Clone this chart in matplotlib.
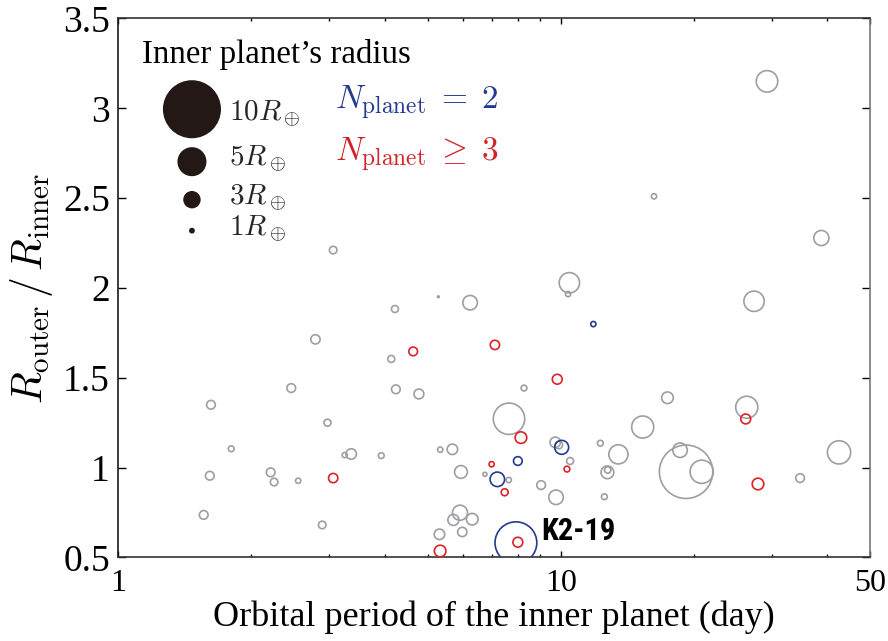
import matplotlib
matplotlib.use("Agg")
import matplotlib.pyplot as plt
from matplotlib.ticker import FixedLocator, NullFormatter, LogLocator

# Pairs of adjacent planets: inner planet period (day), outer/inner radius ratio,
# inner planet radius (Earth radii)
gray_period = [29.26, 16.25, 38.82, 3.06, 10.46, 10.39, 5.29, 6.24, 27.35, 4.22,
               2.79, 4.14, 2.46, 4.24, 4.78, 1.62, 2.97, 8.26, 17.43, 7.64,
               15.32, 26.33, 1.80, 3.25, 3.36, 3.93, 5.34, 5.69, 5.95, 1.61,
               2.21, 2.25, 2.55, 1.56, 2.89, 5.92, 5.72, 6.31, 5.99, 5.32,
               6.74, 7.63, 9.03, 9.76, 9.72, 9.90, 10.50, 12.29, 12.55, 12.75,
               12.77, 13.50, 19.20, 18.61, 20.83, 34.75, 42.56]
gray_ratio = [3.15, 2.51, 2.278, 2.211, 2.029, 1.966, 1.951, 1.918, 1.926, 1.883,
              1.714, 1.605, 1.443, 1.436, 1.41, 1.350, 1.250, 1.443, 1.389, 1.272,
              1.226, 1.336, 1.105, 1.070, 1.076, 1.067, 1.100, 1.102, 0.976, 0.955,
              0.974, 0.920, 0.927, 0.737, 0.681, 0.749, 0.709, 0.713, 0.642, 0.629,
              0.963, 0.931, 0.903, 0.835, 1.141, 1.126, 1.037, 1.136, 0.838, 0.974,
              0.987, 1.074, 0.977, 1.097, 0.977, 0.942, 1.085]
gray_rin = [3.7, 0.9, 2.6, 1.3, 3.5, 0.9, 0.3, 2.5, 3.5, 1.2,
            1.6, 1.2, 1.5, 1.5, 1.7, 1.5, 1.2, 1.0, 2.0, 5.4,
            3.8, 3.8, 1.0, 0.9, 1.8, 1.0, 0.9, 1.8, 2.2, 1.5,
            1.5, 1.3, 0.9, 1.5, 1.3, 2.6, 1.9, 2.0, 1.6, 1.8,
            0.7, 0.9, 1.5, 2.5, 1.8, 1.3, 1.2, 1.0, 1.0, 2.2,
            1.1, 3.3, 9.2, 2.5, 4.0, 1.5, 4.0]

red_period = [3.06, 4.64, 7.10, 9.82, 8.13, 6.98, 10.33, 7.47, 5.34, 8.00, 26.19, 27.92]
red_ratio = [0.942, 1.647, 1.683, 1.492, 1.167, 1.019, 0.992, 0.863, 0.536, 0.585, 1.271, 0.909]
red_rin = [1.6, 1.5, 1.6, 1.7, 2.0, 0.9, 1.0, 1.2, 2.0, 1.7, 1.7, 2.0]

blue_period = [11.85, 10.05, 8.00, 7.19, 7.92]
blue_ratio = [1.799, 1.113, 1.037, 0.935, 0.582]
blue_rin = [0.9, 2.4, 1.5, 2.5, 7.2]

legend_rin = [10, 5, 3, 1]
legend_labels = [r"$10R_\oplus$", r"$5R_\oplus$", r"$3R_\oplus$", r"$1R_\oplus$"]

GRAY = "#9e9ea3"
RED = "#e02027"
BLUE = "#233a8f"
DARK = "#231815"
PT_PER_REARTH = 4.18  # marker diameter (points) per Earth radius

plt.rcParams["mathtext.fontset"] = "cm"
plt.rcParams["font.family"] = ["Liberation Serif", "DejaVu Serif"]


def msize(r):
    return [(PT_PER_REARTH * v) ** 2 for v in r]


fig = plt.figure(figsize=(8.88, 6.41), dpi=100)
ax = fig.add_axes([0.1332, 0.1303, 0.8465, 0.8409])

ax.scatter(gray_period, gray_ratio, s=msize(gray_rin), facecolors="none",
           edgecolors=GRAY, linewidths=1.2, zorder=2)
ax.scatter(red_period, red_ratio, s=msize(red_rin), facecolors="none",
           edgecolors=RED, linewidths=1.2, zorder=3)
ax.scatter(blue_period, blue_ratio, s=msize(blue_rin), facecolors="none",
           edgecolors=BLUE, linewidths=1.2, zorder=4)

ax.set_xscale("log")
ax.set_xlim(1, 50)
ax.set_ylim(0.5, 3.5)
ax.xaxis.set_major_locator(FixedLocator([1, 10, 50]))
ax.set_xticklabels(["1", "10", "50"])
ax.xaxis.set_minor_locator(LogLocator(base=10, subs=range(2, 10)))
ax.xaxis.set_minor_formatter(NullFormatter())
ax.set_yticks([0.5, 1, 1.5, 2, 2.5, 3, 3.5])
ax.set_yticklabels(["0.5", "1", "1.5", "2", "2.5", "3", "3.5"])

ax.tick_params(axis="x", which="major", direction="in", top=True, length=4.5,
               width=1, labelsize=23, pad=8)
ax.tick_params(axis="x", which="minor", direction="in", top=True, length=2.5, width=1)
ax.tick_params(axis="y", which="major", direction="in", right=True, length=6,
               width=1, labelsize=27, pad=6)
for side, col in [("left", "#1a1a1a"), ("bottom", "#333333"),
                  ("top", "#333333"), ("right", "#777777")]:
    ax.spines[side].set_color(col)
    ax.spines[side].set_linewidth(1.2)

ax.set_xlabel("Orbital period of the inner planet (day)", fontsize=26, labelpad=2)
ax.set_ylabel(r"$R_\mathrm{outer}\,/\,R_\mathrm{inner}$", fontsize=30, labelpad=6)

# Size key for the inner planet's radius
ax.text(0.031, 0.917, "Inner planet\u2019s radius", transform=ax.transAxes,
        fontsize=23.7, color="black", va="baseline", ha="left")
key_y = [0.8316, 0.7343, 0.6638, 0.6063]
key_base = [0.8085, 0.7251, 0.654, 0.5952]
ax.scatter([0.098] * len(legend_rin), key_y, s=msize(legend_rin), color=DARK,
           linewidths=0, transform=ax.transAxes, zorder=5, clip_on=False)
for lab, yb in zip(legend_labels, key_base):
    ax.text(0.1477, yb, lab, transform=ax.transAxes, fontsize=21, color="#262626",
            va="baseline", ha="left")

ax.text(0.2882, 0.8314, r"$N_\mathrm{planet}\;=\;2$", transform=ax.transAxes,
        fontsize=24, color=BLUE, va="baseline", ha="left")
ax.text(0.2882, 0.7343, r"$N_\mathrm{planet}\;\geq\;3$", transform=ax.transAxes,
        fontsize=24, color="#d2232a", va="baseline", ha="left")

ax.text(9.03, 0.597, "K2-19", fontsize=22, fontweight="heavy",
        fontstretch="condensed",
        family=["Roboto Condensed", "Open Sans Condensed", "Liberation Sans Narrow",
                "DejaVu Sans"],
        color="black", va="baseline", ha="left", zorder=6)

fig.savefig("out.png", dpi=100)
